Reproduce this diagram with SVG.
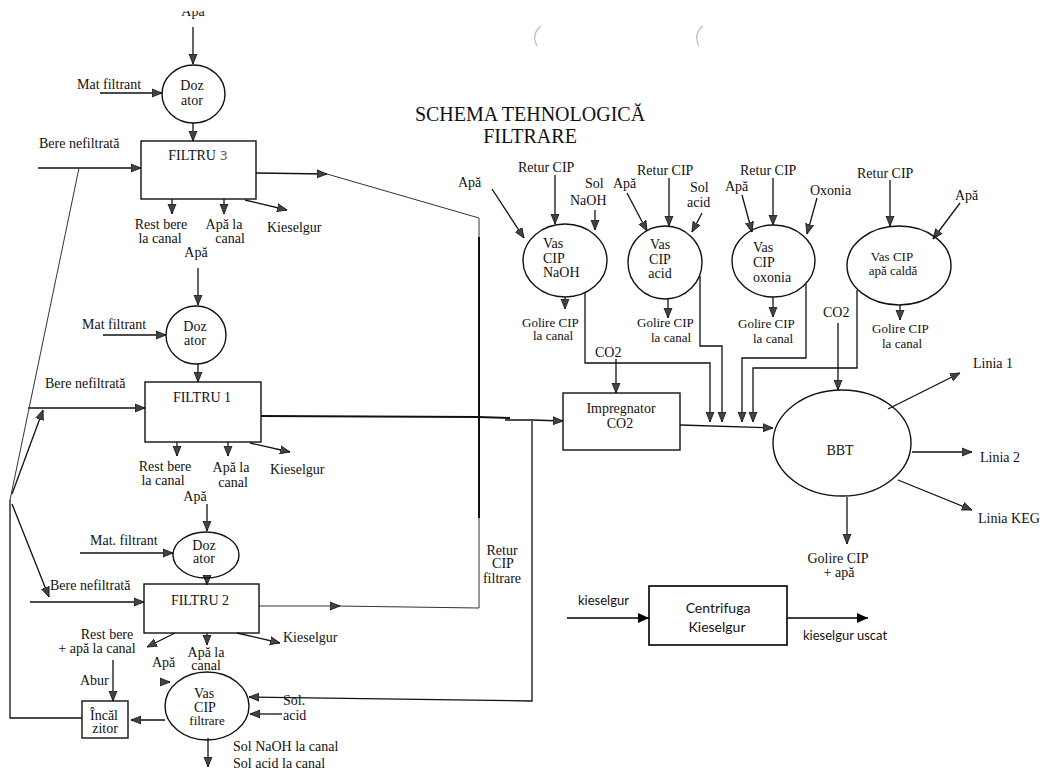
<svg xmlns="http://www.w3.org/2000/svg" width="1044" height="772" viewBox="0 0 1044 772">
  <style>
    .t { font-family: "Liberation Serif", "DejaVu Serif", serif; font-size: 14px; fill: #111; }
    .m { text-anchor: middle; }
    .sm { font-size: 13px; }
    .title { font-family: "Liberation Serif", "DejaVu Serif", serif; font-size: 20px; fill: #111; text-anchor: middle; }
    .cs { font-family: Lato, "Open Sans", "Liberation Sans", sans-serif; font-size: 14px; fill: #111; text-anchor: middle; }
    .cl { font-family: Lato, "Open Sans", "Liberation Sans", sans-serif; font-size: 13px; fill: #111; }
    .shape { fill: none; stroke: #111; stroke-width: 1.4; }
    .ln { fill: none; stroke: #111; stroke-width: 1.3; }
    .thin { fill: none; stroke: #333; stroke-width: 1; }
    .thick { fill: none; stroke: #111; stroke-width: 2; }
    .a { marker-end: url(#ah); }
    .ak { fill: none; stroke: #000; stroke-width: 1.6; marker-end: url(#ahk); }
    .hand { font-family: "DejaVu Sans", sans-serif; font-size: 13px; fill: #666; }
    .speck { fill: none; stroke: #bbb; stroke-width: 1.2; }
  </style>
  <defs>
    <marker id="ah" viewBox="0 0 10 10" refX="10" refY="5" markerWidth="10" markerHeight="10" markerUnits="userSpaceOnUse" orient="auto">
      <path d="M0,1 L10,5 L0,9 z" fill="#444" stroke="#111" stroke-width="0.8"/>
    </marker>
    <marker id="ahk" viewBox="0 0 10 10" refX="10" refY="5" markerWidth="11" markerHeight="11" markerUnits="userSpaceOnUse" orient="auto">
      <path d="M0,0.5 L10,5 L0,9.5 z" fill="#000"/>
    </marker>
    <clipPath id="topcut">
      <rect x="0" y="11" width="400" height="20"/>
    </clipPath>
  </defs>

  <rect width="1044" height="772" fill="#fff"/>

  <!-- faint punch marks on the sheet -->
  <path class="speck" d="M541,26 Q531,34 537,46"/>
  <path class="speck" d="M703,26 Q693,34 699,46"/>

  <!-- title -->
  <text class="title" x="530" y="121">SCHEMA TEHNOLOGICĂ</text>
  <text class="title" x="530" y="143">FILTRARE</text>

  <!-- ===== connectors ===== -->
  <g id="connectors">
    <!-- filter line 3 -->
    <line class="ln a" x1="193" y1="27" x2="193" y2="64"/>
    <line class="ln a" x1="100" y1="93" x2="162" y2="93"/>
    <line class="ln a" x1="193" y1="123" x2="193" y2="141"/>
    <line class="ln a" x1="38" y1="168" x2="141" y2="168"/>
    <line class="ln a" x1="172" y1="199" x2="172" y2="214"/>
    <line class="ln a" x1="224" y1="199" x2="224" y2="214"/>
    <line class="ln a" x1="245" y1="200" x2="287" y2="210"/>
    <line class="ln a" x1="256" y1="173" x2="327" y2="174"/>
    <polyline class="thin" points="327,174 479,218 479,608 337,606"/>
    <line class="thick" x1="479" y1="237" x2="479" y2="518"/>

    <!-- filter line 1 -->
    <line class="ln a" x1="198" y1="268" x2="198" y2="305"/>
    <line class="ln a" x1="103" y1="335" x2="166" y2="335"/>
    <line class="ln a" x1="198" y1="364" x2="198" y2="382"/>
    <line class="ln a" x1="28" y1="408" x2="145" y2="408"/>
    <line class="ln a" x1="177" y1="442" x2="177" y2="456"/>
    <line class="ln a" x1="228" y1="442" x2="228" y2="456"/>
    <line class="ln a" x1="250" y1="443" x2="290" y2="452"/>
    <polyline class="thick" points="261,416 478,417 510,418"/>
    <polyline class="ln a" points="505,420 532,420 563,421"/>

    <!-- filter line 2 -->
    <line class="ln a" x1="207" y1="504" x2="207" y2="531"/>
    <line class="ln a" x1="80" y1="553" x2="173" y2="553"/>
    <line class="ln a" x1="207" y1="578" x2="207" y2="585"/>
    <line class="ln a" x1="30" y1="602" x2="144" y2="602"/>
    <line class="thin a" x1="259" y1="606" x2="340" y2="606"/>
    <line class="ln a" x1="175" y1="633" x2="147" y2="647"/>
    <line class="ln a" x1="207" y1="633" x2="207" y2="645"/>
    <line class="ln a" x1="237" y1="633" x2="280" y2="643"/>

    <!-- unfiltered beer distribution from the heater -->
    <polyline class="ln" points="82,718 10,718 10,500"/>
    <line class="thin" x1="10" y1="500" x2="79" y2="168"/>
    <line class="ln a" x1="12" y1="494" x2="43" y2="410"/>
    <line class="ln a" x1="12" y1="504" x2="49" y2="597"/>

    <!-- CIP filtration tank -->
    <polyline class="ln a" points="532,421 532,701 249,697"/>
    <line class="ln a" x1="113" y1="660" x2="113" y2="701"/>
    <line class="ln a" x1="160" y1="682" x2="170" y2="682"/>
    <line class="ln a" x1="165" y1="720" x2="131" y2="720"/>
    <line class="ln a" x1="282" y1="714" x2="250" y2="714"/>
    <line class="ln a" x1="208" y1="738" x2="208" y2="767"/>

    <!-- CIP NaOH -->
    <line class="ln a" x1="492" y1="189" x2="524" y2="238"/>
    <line class="ln a" x1="555" y1="175" x2="555" y2="224"/>
    <line class="ln a" x1="595" y1="210" x2="595" y2="230"/>
    <line class="ln a" x1="565" y1="297" x2="565" y2="309"/>
    <polyline class="ln a" points="585,293 585,363 710,363 710,422"/>

    <!-- CIP acid -->
    <line class="ln a" x1="627" y1="193" x2="647" y2="231"/>
    <line class="ln a" x1="669" y1="178" x2="669" y2="226"/>
    <line class="ln a" x1="702" y1="213" x2="692" y2="232"/>
    <line class="ln a" x1="668" y1="299" x2="668" y2="318"/>
    <polyline class="ln a" points="700,276 700,346 722,346 722,422"/>

    <!-- CIP oxonia -->
    <line class="ln a" x1="742" y1="195" x2="752" y2="232"/>
    <line class="ln a" x1="773" y1="178" x2="773" y2="225"/>
    <line class="ln a" x1="817" y1="198" x2="807" y2="234"/>
    <line class="ln a" x1="773" y1="297" x2="773" y2="317"/>
    <polyline class="ln a" points="806,284 806,358 742,358 742,422"/>

    <!-- CIP hot water -->
    <line class="ln a" x1="890" y1="180" x2="890" y2="226"/>
    <line class="ln a" x1="960" y1="203" x2="933" y2="239"/>
    <line class="ln a" x1="900" y1="305" x2="900" y2="320"/>
    <polyline class="ln a" points="857,290 857,368 753,368 753,422"/>

    <!-- CO2 and bright beer tank -->
    <line class="ln a" x1="838" y1="323" x2="838" y2="390"/>
    <line class="ln a" x1="616" y1="359" x2="616" y2="393"/>
    <line class="ln a" x1="680" y1="425" x2="773" y2="428"/>
    <line class="ln a" x1="888" y1="409" x2="960" y2="373"/>
    <line class="ln a" x1="912" y1="452" x2="972" y2="452"/>
    <line class="ln a" x1="898" y1="480" x2="972" y2="510"/>
    <line class="ln a" x1="847" y1="497" x2="847" y2="544"/>

    <!-- kieselgur centrifuge -->
    <line class="ak" x1="567" y1="618" x2="649" y2="618"/>
    <line class="ak" x1="787" y1="618" x2="868" y2="618"/>
  </g>

  <!-- ===== nodes ===== -->
  <g id="dozator-3">
    <ellipse class="shape" cx="193.5" cy="94" rx="31.5" ry="29"/>
    <text class="t m" x="192" y="90">Doz</text>
    <text class="t m" x="192" y="105">ator</text>
  </g>
  <g id="filtru-3">
    <rect class="shape" x="141" y="141" width="115" height="58"/>
    <text class="t m" x="198" y="160">FILTRU <tspan class="hand">3</tspan></text>
  </g>
  <g id="dozator-1">
    <ellipse class="shape" cx="196" cy="335" rx="30" ry="29"/>
    <text class="t m" x="195" y="331">Doz</text>
    <text class="t m" x="195" y="345">ator</text>
  </g>
  <g id="filtru-1">
    <rect class="shape" x="145" y="382" width="116" height="60"/>
    <text class="t m" x="202" y="402">FILTRU 1</text>
  </g>
  <g id="dozator-2">
    <ellipse class="shape" cx="206" cy="555" rx="33" ry="23"/>
    <text class="t m" x="204" y="550">Doz</text>
    <text class="t m" x="204" y="563">ator</text>
  </g>
  <g id="filtru-2">
    <rect class="shape" x="144" y="584" width="115" height="49"/>
    <text class="t m" x="200" y="605">FILTRU 2</text>
  </g>
  <g id="vas-cip-filtrare">
    <ellipse class="shape" cx="207" cy="706" rx="42" ry="34"/>
    <text class="t m" x="204" y="698">Vas</text>
    <text class="t m" x="205" y="712">CIP</text>
    <text class="t m sm" x="207" y="725">filtrare</text>
  </g>
  <g id="incalzitor">
    <rect class="shape" x="82" y="701" width="46" height="37"/>
    <text class="t m" x="104" y="720">Încăl</text>
    <text class="t m" x="105" y="733">zitor</text>
  </g>
  <g id="vas-cip-naoh">
    <ellipse class="shape" cx="565" cy="260.5" rx="42" ry="36.5"/>
    <text class="t" x="543" y="248">Vas</text>
    <text class="t" x="543" y="263">CIP</text>
    <text class="t" x="543" y="277">NaOH</text>
  </g>
  <g id="vas-cip-acid">
    <ellipse class="shape" cx="665" cy="262.5" rx="37" ry="36.5"/>
    <text class="t m" x="660" y="249">Vas</text>
    <text class="t m" x="660" y="264">CIP</text>
    <text class="t m" x="660" y="278">acid</text>
  </g>
  <g id="vas-cip-oxonia">
    <ellipse class="shape" cx="773.5" cy="261" rx="41.5" ry="36"/>
    <text class="t" x="753" y="252">Vas</text>
    <text class="t" x="753" y="267">CIP</text>
    <text class="t" x="753" y="282">oxonia</text>
  </g>
  <g id="vas-cip-apa-calda">
    <ellipse class="shape" cx="899" cy="265.5" rx="52" ry="39.5"/>
    <text class="t m sm" x="892" y="261">Vas CIP</text>
    <text class="t m sm" x="893" y="275">apă caldă</text>
  </g>
  <g id="impregnator">
    <rect class="shape" x="563" y="393" width="117" height="57"/>
    <text class="t m" x="621" y="413">Impregnator</text>
    <text class="t m" x="620" y="428">CO2</text>
  </g>
  <g id="bbt">
    <ellipse class="shape" cx="842" cy="443" rx="69" ry="53"/>
    <text class="t m" x="840" y="455">BBT</text>
  </g>
  <g id="centrifuga">
    <rect fill="none" stroke="#000" stroke-width="1.6" x="649" y="586" width="138" height="59"/>
    <text class="cs" x="718" y="613">Centrifuga</text>
    <text class="cs" x="717" y="632">Kieselgur</text>
  </g>

  <!-- ===== stream labels ===== -->
  <g id="labels">
    <text class="t m" x="193" y="16" clip-path="url(#topcut)">Apă</text>
    <text class="t" x="77" y="89">Mat filtrant</text>
    <text class="t" x="39" y="148">Bere nefiltrată</text>
    <text class="t m" x="161" y="229">Rest bere</text>
    <text class="t m" x="160" y="243">la canal</text>
    <text class="t m" x="224" y="229">Apă la</text>
    <text class="t m" x="230" y="243">canal</text>
    <text class="t" x="267" y="232">Kieselgur</text>

    <text class="t m" x="196" y="257">Apă</text>
    <text class="t" x="82" y="329">Mat filtrant</text>
    <text class="t" x="45" y="388">Bere nefiltrată</text>
    <text class="t m" x="165" y="471">Rest bere</text>
    <text class="t m" x="163" y="485">la canal</text>
    <text class="t m" x="231" y="472">Apă la</text>
    <text class="t m" x="233" y="487">canal</text>
    <text class="t" x="270" y="474">Kieselgur</text>

    <text class="t m" x="195" y="501">Apă</text>
    <text class="t" x="90" y="545">Mat. filtrant</text>
    <text class="t" x="50" y="590">Bere nefiltrată</text>
    <text class="t m" x="107" y="639">Rest bere</text>
    <text class="t m" x="97" y="653">+ apă la canal</text>
    <text class="t m" x="206" y="657">Apă la</text>
    <text class="t m" x="206" y="670">canal</text>
    <text class="t" x="283" y="642">Kieselgur</text>
    <text class="t" x="80" y="685">Abur</text>
    <text class="t" x="152" y="667">Apă</text>
    <text class="t" x="283" y="705">Sol.</text>
    <text class="t" x="283" y="720">acid</text>
    <text class="t" x="233" y="751">Sol NaOH la canal</text>
    <text class="t" x="233" y="768">Sol acid la canal</text>
    <text class="t m" x="502" y="555">Retur</text>
    <text class="t m" x="503" y="568">CIP</text>
    <text class="t m" x="502" y="583">filtrare</text>

    <text class="t" x="458" y="187">Apă</text>
    <text class="t" x="518" y="172">Retur CIP</text>
    <text class="t" x="585" y="188">Sol</text>
    <text class="t" x="570" y="205">NaOH</text>
    <text class="t sm" x="522" y="327">Golire CIP</text>
    <text class="t sm" x="533" y="340">la canal</text>

    <text class="t" x="613" y="188">Apă</text>
    <text class="t" x="637" y="175">Retur CIP</text>
    <text class="t" x="690" y="192">Sol</text>
    <text class="t" x="687" y="207">acid</text>
    <text class="t sm" x="637" y="327">Golire CIP</text>
    <text class="t sm" x="651" y="342">la canal</text>

    <text class="t" x="725" y="191">Apă</text>
    <text class="t" x="740" y="175">Retur CIP</text>
    <text class="t" x="810" y="195">Oxonia</text>
    <text class="t sm" x="738" y="328">Golire CIP</text>
    <text class="t sm" x="753" y="343">la canal</text>

    <text class="t" x="857" y="178">Retur CIP</text>
    <text class="t" x="955" y="200">Apă</text>
    <text class="t sm" x="872" y="333">Golire CIP</text>
    <text class="t sm" x="882" y="348">la canal</text>

    <text class="t" x="823" y="317">CO2</text>
    <text class="t" x="595" y="357">CO2</text>

    <text class="t" x="973" y="368">Linia 1</text>
    <text class="t" x="980" y="462">Linia 2</text>
    <text class="t" x="978" y="523">Linia KEG</text>
    <text class="t m" x="838" y="563">Golire CIP</text>
    <text class="t m" x="839" y="577">+ apă</text>

    <text class="cl" x="578" y="605">kieselgur</text>
    <text class="cl" x="803" y="640">kieselgur uscat</text>
  </g>
</svg>
